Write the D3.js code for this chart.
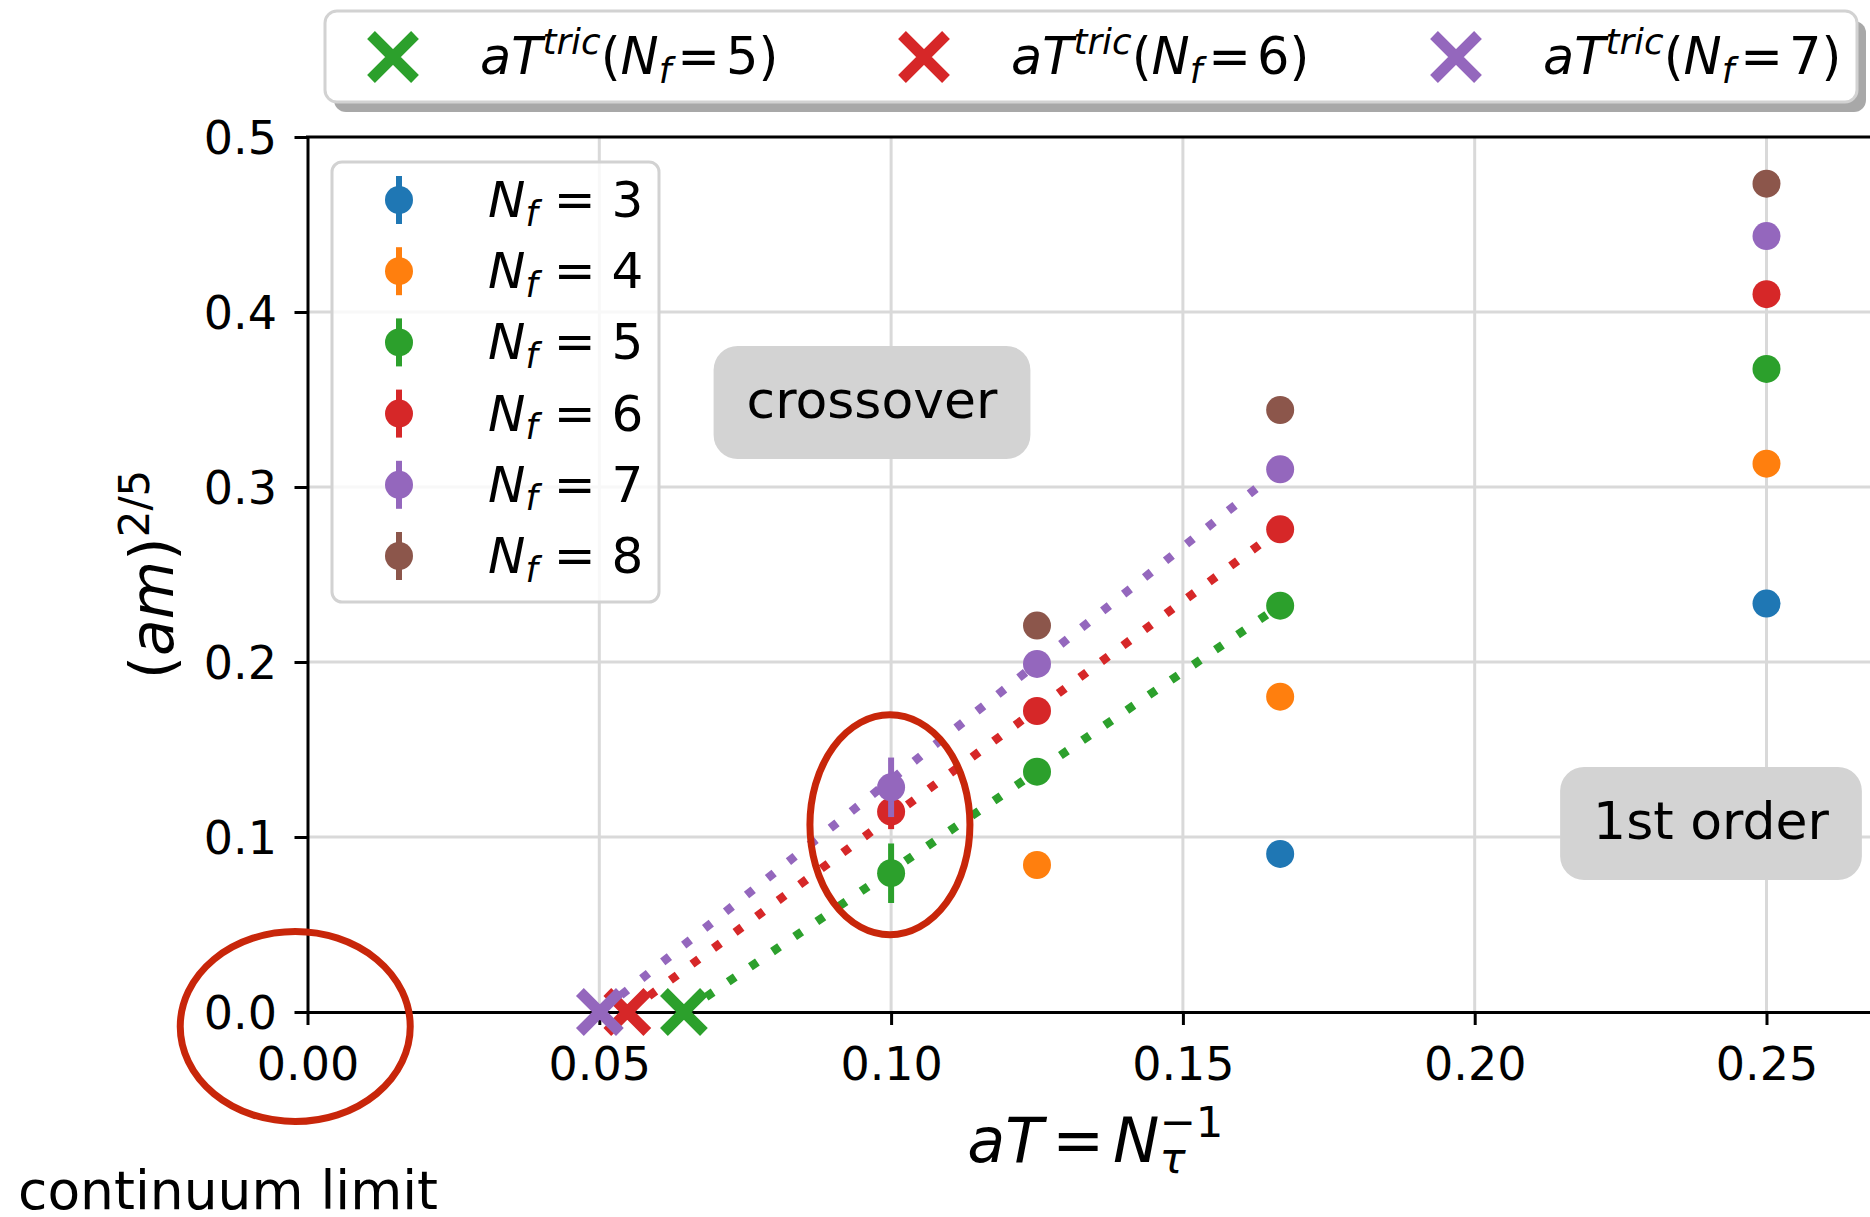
<!DOCTYPE html>
<html>
<head>
<meta charset="utf-8">
<script src="https://cdn.jsdelivr.net/npm/d3@7"></script>
<style>
  html, body { margin: 0; padding: 0; background: #ffffff; }
  svg { display: block; }
  text { font-family: "DejaVu Sans", sans-serif; }
</style>
</head>
<body>
<svg id="chart" width="1870" height="1217"></svg>
<script>
// ---- data ----------------------------------------------------------------
// inverse temporal extent aT = 1/N_tau for N_tau = 4, 6, 8, 10
const invNtau = [1 / 4, 1 / 6, 1 / 8, 1 / 10];
const flavours = [3, 4, 5, 6, 7, 8];
const colors = ["#1f77b4", "#ff7f0e", "#2ca02c", "#d62728", "#9467bd", "#8c564b"];

// critical (am)^{2/5} per flavour, one entry per aT above (null = not simulated)
const amNf3 = [0.2334, 0.0903, null, null];
const amNf4 = [0.3133, 0.1802, 0.0840, null];
const amNf5 = [0.3675, 0.2322, 0.1373, 0.0793];
const amNf6 = [0.4102, 0.2758, 0.1720, 0.1145];
const amNf7 = [0.4434, 0.3101, 0.1989, 0.1284];
const amNf8 = [0.4733, 0.3440, 0.2208, null];

// statistical errors on (am)^{2/5}
const errNf3 = [0.002, 0.002, null, null];
const errNf4 = [0.002, 0.002, 0.002, null];
const errNf5 = [0.002, 0.002, 0.002, 0.017];
const errNf6 = [0.002, 0.002, 0.002, 0.010];
const errNf7 = [0.002, 0.002, 0.002, 0.017];
const errNf8 = [0.002, 0.002, 0.002, null];

// linear extrapolations to the tricritical point (am = 0)
const tricFlavours = [5, 6, 7];
const tricColors = ["#2ca02c", "#d62728", "#9467bd"];
const aTtric = [0.0645, 0.0548, 0.0501];
const fitEndAT = 1 / 6;
const fitEndAm = [0.2322, 0.2758, 0.3101];

const xTicks = [0, 0.05, 0.10, 0.15, 0.20, 0.25];
const yTicks = [0, 0.1, 0.2, 0.3, 0.4, 0.5];

const amSeries = [amNf3, amNf4, amNf5, amNf6, amNf7, amNf8];
const errSeries = [errNf3, errNf4, errNf5, errNf6, errNf7, errNf8];

// ---- layout --------------------------------------------------------------
const svg = d3.select("#chart");
const plotLeft = 307.5, plotTop = 137, plotBottom = 1012;
const xMax = 0.27;
const x = d3.scaleLinear().domain([0, xMax]).range([plotLeft, plotLeft + xMax / 0.05 * 291.8]);
const y = d3.scaleLinear().domain([0, 0.5]).range([plotBottom, plotTop]);

const red = "#c8260a";
const gridColor = "#d9d9d9";

// mathtext-like rich text: parts = [{t, it, s, dx}] with s in {"sup","sub"}
function richText(g, px, py, parts, size, anchor) {
  const t = g.append("text")
    .attr("x", px).attr("y", py)
    .attr("font-size", size)
    .attr("text-anchor", anchor || "start")
    .attr("fill", "#000");
  let shift = 0;
  let lastSubWidth = 0;
  parts.forEach(p => {
    const fs = p.s ? size * 0.7 : size;
    let target = 0;
    if (p.s === "sup") target = -0.40 * size;
    if (p.s === "sub") target = 0.17 * size;
    const ts = t.append("tspan")
      .attr("font-size", fs)
      .attr("font-style", p.it ? "italic" : "normal")
      .attr("dy", target - shift)
      .text(p.t);
    if (p.stack) ts.attr("dx", -lastSubWidth);
    else if (p.dx) ts.attr("dx", p.dx);
    shift = target;
    lastSubWidth = ts.node().getComputedTextLength();
  });
  return t;
}

// ---- grid ----------------------------------------------------------------
const grid = svg.append("g");
grid.selectAll("line.gx").data(xTicks.filter(v => v > 0)).join("line")
  .attr("x1", d => x(d)).attr("x2", d => x(d))
  .attr("y1", y(0)).attr("y2", y(0.5))
  .attr("stroke", gridColor).attr("stroke-width", 3);
grid.selectAll("line.gy").data(yTicks.filter(v => v > 0 && v < 0.5)).join("line")
  .attr("x1", x(0)).attr("x2", x(xMax))
  .attr("y1", d => y(d)).attr("y2", d => y(d))
  .attr("stroke", gridColor).attr("stroke-width", 3);

// ---- axes ----------------------------------------------------------------
const xAxis = svg.append("g").attr("transform", `translate(0,${y(0)})`)
  .call(d3.axisBottom(x).tickValues(xTicks).tickFormat(d3.format(".2f")).tickSize(13).tickSizeOuter(0));
const yAxis = svg.append("g").attr("transform", `translate(${x(0)},0)`)
  .call(d3.axisLeft(y).tickValues(yTicks).tickFormat(d3.format(".1f")).tickSize(13).tickSizeOuter(0));
[xAxis, yAxis].forEach(a => {
  a.select(".domain").attr("stroke", "#000").attr("stroke-width", 3);
  a.selectAll(".tick line").attr("stroke", "#000").attr("stroke-width", 3);
  a.selectAll(".tick text").attr("font-family", "DejaVu Sans").attr("font-size", 46).attr("fill", "#000");
});
xAxis.selectAll(".tick text").attr("y", 34).attr("dy", "0.74em");
yAxis.selectAll(".tick text").attr("x", -30.5).attr("dy", "0.36em");
// top spine
svg.append("line").attr("x1", x(0) - 1.5).attr("x2", x(xMax))
  .attr("y1", y(0.5)).attr("y2", y(0.5))
  .attr("stroke", "#000").attr("stroke-width", 3);

// axis labels
richText(svg, (x(0) + x(xMax)) / 2, 1162, [
  { t: "a", it: true }, { t: "T", it: true }, { t: "=", dx: 9 },
  { t: "N", it: true, dx: 9 }, { t: "τ", it: true, s: "sub" }, { t: "−1", s: "sup", stack: true }
], 62, "middle");

const yl = svg.append("g").attr("transform", `translate(173,${(y(0) + y(0.5)) / 2}) rotate(-90)`);
richText(yl, 0, 0, [
  { t: "(" }, { t: "am", it: true }, { t: ")" }, { t: "2/5", s: "sup" }
], 60, "middle");

// ---- extrapolation lines ----------------------------------------------------
const fits = svg.append("g");
tricFlavours.forEach((nf, i) => {
  fits.append("line")
    .attr("x1", x(aTtric[i])).attr("y1", y(0))
    .attr("x2", x(fitEndAT)).attr("y2", y(fitEndAm[i]))
    .attr("stroke", tricColors[i]).attr("stroke-width", 8.5)
    .attr("stroke-dasharray", "8.5 18.3").attr("stroke-linecap", "butt");
});

// ---- data points with error bars -------------------------------------------
const pts = svg.append("g");
flavours.forEach((nf, k) => {
  const rows = invNtau.map((a, j) => ({ a, v: amSeries[k][j], e: errSeries[k][j] }))
    .filter(d => d.v !== null);
  const g = pts.append("g");
  g.selectAll("line").data(rows).join("line")
    .attr("x1", d => x(d.a)).attr("x2", d => x(d.a))
    .attr("y1", d => y(d.v - d.e)).attr("y2", d => y(d.v + d.e))
    .attr("stroke", colors[k]).attr("stroke-width", 6);
  g.selectAll("circle").data(rows).join("circle")
    .attr("cx", d => x(d.a)).attr("cy", d => y(d.v)).attr("r", 14)
    .attr("fill", colors[k]);
});

// ---- tricritical crosses --------------------------------------------------
function cross(g, cx, cy, half, color) {
  g.append("path")
    .attr("d", `M${cx - half},${cy - half}L${cx + half},${cy + half}M${cx - half},${cy + half}L${cx + half},${cy - half}`)
    .attr("stroke", color).attr("stroke-width", 11).attr("fill", "none");
}
const crosses = svg.append("g");
tricFlavours.forEach((nf, i) => cross(crosses, x(aTtric[i]), y(0), 20, tricColors[i]));

// ---- flavour legend -------------------------------------------------------
const leg = svg.append("g");
leg.append("rect").attr("x", 332).attr("y", 162).attr("width", 327).attr("height", 440)
  .attr("rx", 10).attr("fill", "rgba(255,255,255,0.8)")
  .attr("stroke", "#d2d2d2").attr("stroke-width", 3);
flavours.forEach((nf, k) => {
  const ry = 200 + k * 71.2;
  leg.append("line").attr("x1", 399).attr("x2", 399).attr("y1", ry - 24).attr("y2", ry + 24)
    .attr("stroke", colors[k]).attr("stroke-width", 6);
  leg.append("circle").attr("cx", 399).attr("cy", ry).attr("r", 14).attr("fill", colors[k]);
  richText(leg, 488, ry + 17, [
    { t: "N", it: true }, { t: "f", it: true, s: "sub" }, { t: " = " + nf }
  ], 50);
});

// ---- tricritical legend ---------------------------------------------------
const tleg = svg.append("g");
tleg.append("rect").attr("x", 334).attr("y", 21).attr("width", 1532).attr("height", 91)
  .attr("rx", 12).attr("fill", "#a8a8a8");
tleg.append("rect").attr("x", 325).attr("y", 11).attr("width", 1532).attr("height", 91)
  .attr("rx", 12).attr("fill", "#ffffff").attr("stroke", "#d2d2d2").attr("stroke-width", 3);
const tlegX = [393, 924, 1456];
tricFlavours.forEach((nf, i) => {
  cross(tleg, tlegX[i], 57, 22, tricColors[i]);
  richText(tleg, tlegX[i] + 87, 74, [
    { t: "a", it: true }, { t: "T", it: true }, { t: "tric", it: true, s: "sup" },
    { t: "(" }, { t: "N", it: true }, { t: "f", it: true, s: "sub" },
    { t: "=", dx: 6 }, { t: String(nf), dx: 6 }, { t: ")" }
  ], 51);
});

// ---- regime labels -----------------------------------------------------------
function boxLabel(cx, baseline, label) {
  const g = svg.append("g");
  const t = g.append("text").attr("x", cx).attr("y", baseline)
    .attr("text-anchor", "middle").attr("font-size", 52).attr("fill", "#000").text(label);
  const w = t.node().getComputedTextLength();
  g.insert("rect", "text")
    .attr("x", cx - w / 2 - 33).attr("y", baseline - 72)
    .attr("width", w + 66).attr("height", 113)
    .attr("rx", 24).attr("fill", "#d3d3d3");
}
boxLabel(872, 418, "crossover");
boxLabel(1711, 839, "1st order");

// ---- highlighted regions ----------------------------------------------------
svg.append("ellipse").attr("cx", x(-0.0021)).attr("cy", y(-0.0083))
  .attr("rx", 115).attr("ry", 95)
  .attr("fill", "none").attr("stroke", red).attr("stroke-width", 7);
svg.append("ellipse").attr("cx", x(0.0998)).attr("cy", y(0.1070))
  .attr("rx", 80).attr("ry", 110)
  .attr("fill", "none").attr("stroke", red).attr("stroke-width", 7);

svg.append("text").attr("x", 18).attr("y", 1209)
  .attr("font-family", "Lato, 'Open Sans', sans-serif").attr("font-size", 54)
  .attr("textLength", 420).attr("lengthAdjust", "spacingAndGlyphs")
  .attr("fill", "#000").text("continuum limit");
</script>
</body>
</html>
